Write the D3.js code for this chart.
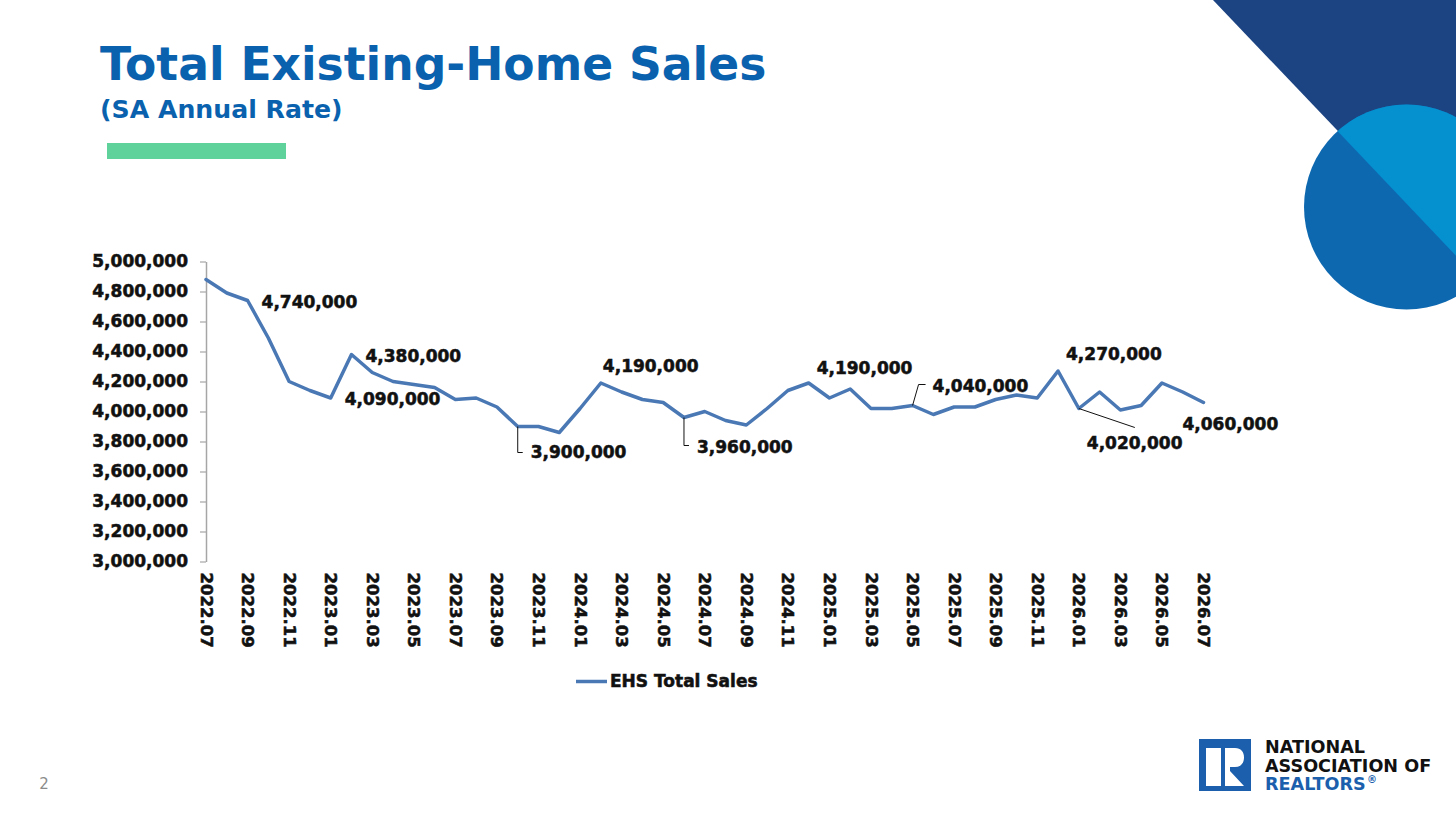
<!DOCTYPE html>
<html>
<head>
<meta charset="utf-8">
<script src="https://cdn.jsdelivr.net/npm/d3@7"></script>
<style>
  body { margin: 0; background: #fff; }
  svg { display: block; font-family: "DejaVu Sans", sans-serif; font-weight: bold; }
  .heavy { stroke: #111; stroke-width: 0.55px; paint-order: stroke; }
</style>
</head>
<body>
<div id="svgContainer"></div>
<script>
// monthly categories, 2022.07 .. 2026.07
const months = [
  "2022.07","2022.08","2022.09","2022.10","2022.11","2022.12",
  "2023.01","2023.02","2023.03","2023.04","2023.05","2023.06",
  "2023.07","2023.08","2023.09","2023.10","2023.11","2023.12",
  "2024.01","2024.02","2024.03","2024.04","2024.05","2024.06",
  "2024.07","2024.08","2024.09","2024.10","2024.11","2024.12",
  "2025.01","2025.02","2025.03","2025.04","2025.05","2025.06",
  "2025.07","2025.08","2025.09","2025.10","2025.11","2025.12",
  "2026.01","2026.02","2026.03","2026.04","2026.05","2026.06",
  "2026.07"
];

// EHS total sales, SA annual rate
const sales = [
  4880000, 4790000, 4740000, 4490000, 4200000, 4140000,
  4090000, 4380000, 4260000, 4200000, 4180000, 4160000,
  4080000, 4090000, 4030000, 3900000, 3900000, 3860000,
  4020000, 4190000, 4130000, 4080000, 4060000, 3960000,
  4000000, 3940000, 3910000, 4020000, 4140000, 4190000,
  4090000, 4150000, 4020000, 4020000, 4040000, 3980000,
  4030000, 4030000, 4080000, 4110000, 4090000, 4270000,
  4020000, 4130000, 4010000, 4040000, 4190000, 4130000,
  4060000
];

const xTickLabels = [
  "2022.07","2022.09","2022.11","2023.01","2023.03","2023.05","2023.07",
  "2023.09","2023.11","2024.01","2024.03","2024.05","2024.07","2024.09",
  "2024.11","2025.01","2025.03","2025.05","2025.07","2025.09","2025.11",
  "2026.01","2026.03","2026.05","2026.07"
];

const yTickValues = [3000000, 3200000, 3400000, 3600000, 3800000, 4000000,
                     4200000, 4400000, 4600000, 4800000, 5000000];

// months that carry a data label
const labeledMonths = ["2022.09","2023.01","2023.02","2023.10","2024.02","2024.06",
                       "2024.12","2025.05","2025.12","2026.01","2026.07"];

const seriesName = "EHS Total Sales";

const width = 1456;
const height = 815;
const blue = "#4a78b4";

const svg = d3.select("#svgContainer").append("svg")
  .attr("width", width)
  .attr("height", height)

// --- slide decoration ---
svg.append("polygon")
  .attr("points", "1213,0 1456,0 1456,255")
  .attr("fill", "#1d4482")

const circClip = svg.append("clipPath").attr("id", "circ")
circClip.append("circle").attr("cx", 1406.5).attr("cy", 207).attr("r", 102.5)

svg.append("circle")
  .attr("cx", 1406.5).attr("cy", 207).attr("r", 102.5)
  .attr("fill", "#0e68b0")
svg.append("polygon")
  .attr("clip-path", "url(#circ)")
  .attr("points", "1213,0 1520,0 1520,323")
  .attr("fill", "#0590d0")

svg.append("text")
  .attr("x", 100).attr("y", 80)
  .attr("font-size", 45.6)
  .attr("fill", "#0a62ae")
  .text("Total Existing-Home Sales")

svg.append("text")
  .attr("x", 100).attr("y", 118)
  .attr("font-size", 25.2)
  .attr("fill", "#0a62ae")
  .text("(SA Annual Rate)")

svg.append("rect")
  .attr("x", 107).attr("y", 143)
  .attr("width", 179).attr("height", 16)
  .attr("fill", "#5fd29b")

svg.append("text")
  .attr("x", 44).attr("y", 789)
  .attr("font-size", 15)
  .attr("font-weight", "normal")
  .attr("text-anchor", "middle")
  .attr("fill", "#8c8c8c")
  .text("2")

// logo
const logo = svg.append("g").attr("transform", "translate(1199,739)")
logo.append("rect").attr("width", 52).attr("height", 52).attr("fill", "#1b5fad")
logo.append("path")
  .attr("fill", "#fff")
  .attr("d", "M7,9 H22 V47 H7 Z M26,9 H36 C42,9 45,13 45,18.5 C45,24 42,28 36,28 H31 V47 H26 Z M31,32 L45,47 H31 Z")

const logoText = [["NATIONAL", 753, "#111"], ["ASSOCIATION OF", 772, "#111"], ["REALTORS", 790, "#1b5fad"]]
logoText.forEach(d => {
  svg.append("text")
    .attr("x", 1265).attr("y", d[1])
    .attr("font-size", 17.6)
    .attr("fill", d[2])
    .text(d[0])
})
svg.append("text")
  .attr("x", 1367).attr("y", 783)
  .attr("font-size", 10)
  .attr("fill", "#1b5fad")
  .text("\u00ae")

// --- chart ---
const x = d3.scalePoint()
  .domain(months)
  .range([206, 1203.5])

const y = d3.scaleLinear()
  .domain([3000000, 5000000])
  .range([561.5, 261.5])

const yAxis = g => g
  .attr("transform", "translate(206,0)")
  .call(d3.axisLeft(y).tickValues(yTickValues).tickFormat(d3.format(",")).tickSize(6).tickPadding(12).tickSizeOuter(0))
  .call(g => g.select(".domain").attr("stroke", "#a6a6a6").attr("stroke-width", 1.5))
  .call(g => g.selectAll(".tick line").attr("stroke", "#a6a6a6").attr("stroke-width", 1.2))
  .call(g => g.selectAll(".tick text")
    .attr("class", "heavy")
    .attr("font-size", 17).attr("font-family", "DejaVu Sans").attr("font-weight", "bold").attr("fill", "#111"))

const xAxis = g => g
  .attr("transform", "translate(0,561.5)")
  .call(d3.axisBottom(x).tickValues(xTickLabels).tickSize(0))
  .call(g => g.select(".domain").remove())
  .call(g => g.selectAll(".tick text")
    .attr("class", "heavy")
    .attr("transform", "rotate(90)")
    .attr("x", 11).attr("y", 0).attr("dy", "0.36em")
    .attr("text-anchor", "start")
    .attr("font-size", 16.5).attr("font-family", "DejaVu Sans").attr("font-weight", "bold").attr("fill", "#111"))

svg.append("g").call(yAxis)
svg.append("g").call(xAxis)

const lineData = months.map((m, i) => ({ month: m, value: sales[i] }))

const line = d3.line()
  .x(d => x(d.month))
  .y(d => y(d.value))

svg.append("path")
  .datum(lineData)
  .attr("fill", "none")
  .attr("stroke", blue)
  .attr("stroke-width", 3.5)
  .attr("stroke-linejoin", "round")
  .attr("stroke-linecap", "round")
  .attr("d", line)

// label placement: text offset from the point, optional leader line (relative points)
const labelLayout = {
  "2022.09": { dx: 14, dy: 7 },
  "2023.01": { dx: 14, dy: 7 },
  "2023.02": { dx: 14, dy: 7 },
  "2023.10": { dx: 13, dy: 31, leader: [[0, 0], [0, 26], [5, 26]] },
  "2024.02": { dx: 2, dy: -11 },
  "2024.06": { dx: 13, dy: 35, leader: [[0, 0], [0, 28], [5, 28]] },
  "2024.12": { dx: 8, dy: -9 },
  "2025.05": { dx: 20, dy: -14, leader: [[0, 0], [6, -21], [13, -21]] },
  "2025.12": { dx: 8, dy: -11 },
  "2026.01": { dx: 8, dy: 40, leader: [[0, 0], [56, 19]] },
  "2026.07": { dx: -21, dy: 27 }
}

const labels = lineData.filter(d => labeledMonths.includes(d.month))

labels.forEach(d => {
  const px = x(d.month), py = y(d.value)
  const lay = labelLayout[d.month]
  if (lay.leader) {
    svg.append("path")
      .attr("fill", "none")
      .attr("stroke", "#111")
      .attr("stroke-width", 1)
      .attr("d", d3.line()(lay.leader.map(p => [px + p[0], py + p[1]])))
  }
  svg.append("text")
    .attr("class", "heavy")
    .attr("x", px + lay.dx)
    .attr("y", py + lay.dy)
    .attr("font-size", 17)
    .attr("fill", "#111")
    .text(d3.format(",")(d.value))
})

// legend
const legend = svg.append("g").attr("transform", "translate(576,681.5)")
legend.append("line")
  .attr("x1", 0).attr("x2", 31)
  .attr("stroke", blue).attr("stroke-width", 3.5)
legend.append("text")
  .attr("class", "heavy")
  .attr("x", 34).attr("y", 0).attr("dy", "0.35em")
  .attr("font-size", 17)
  .attr("fill", "#111")
  .text(seriesName)
</script>
</body>
</html>
